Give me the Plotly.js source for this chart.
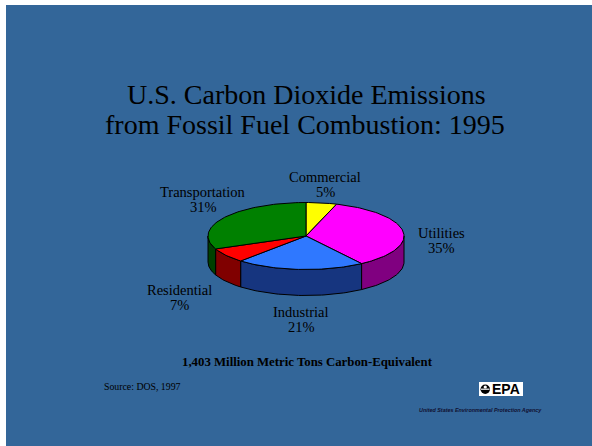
<!DOCTYPE html>
<html>
<head>
<meta charset="utf-8">
<script src="https://cdn.plot.ly/plotly-3.0.1.min.js"></script>
<style>
  html, body { margin: 0; padding: 0; background: #ffffff; }
  #chart { width: 592px; height: 446px; }
</style>
</head>
<body>
<div id="chart"></div>
<script>
// Sectors, clockwise from twelve o'clock
const sectors = ["Commercial", "Utilities", "Industrial", "Residential", "Transportation"];
const shares = [5, 35, 21, 7, 31];              // percent of total
const topColors = ["#FFFF00", "#FF00FF", "#2F78FF", "#FF0000", "#008000"];
const sideColors = ["#808000", "#800080", "#16357F", "#800000", "#004000"];
const totalLabel = "1,403 Million Metric Tons Carbon-Equivalent";
const sourceLabel = "Source: DOS, 1997";

// Label anchors (pixel frame) for each sector: [x, y of name line]
const labelAnchor = [[325, 177], [441, 233], [301, 312], [179, 290], [203, 192]];

// Tilted-disc geometry in the pixel frame
const cx = 306, cy = 236, rx = 98, ry = 33.5, depth = 26;
const STEPS = 240;

function pt(theta, dy) {
  return [cx + rx * Math.sin(theta), cy - ry * Math.cos(theta) + (dy || 0)];
}
function arc(a0, a1, dy) {
  const n = Math.max(2, Math.ceil(Math.abs(a1 - a0) / (2 * Math.PI) * STEPS));
  const xs = [], ys = [];
  for (let i = 0; i <= n; i++) {
    const p = pt(a0 + (a1 - a0) * i / n, dy);
    xs.push(p[0]); ys.push(p[1]);
  }
  return [xs, ys];
}

const total = shares.reduce((a, b) => a + b, 0);
const bounds = [];
let acc = 0;
shares.forEach(v => {
  const a0 = acc / total * 2 * Math.PI;
  acc += v;
  bounds.push([a0, acc / total * 2 * Math.PI]);
});

const traces = [];
const edge = { color: "#000000", width: 1 };

// Visible rim of each sector (front half of the disc)
bounds.forEach(([a0, a1], i) => {
  const s = Math.max(a0, Math.PI / 2), e = Math.min(a1, 3 * Math.PI / 2);
  if (e <= s) return;
  const top = arc(s, e, 0), bot = arc(e, s, depth);
  traces.push({
    type: "scatter", mode: "lines", fill: "toself",
    x: top[0].concat(bot[0], [top[0][0]]),
    y: top[1].concat(bot[1], [top[1][0]]),
    fillcolor: sideColors[i], line: edge, hoverinfo: "skip", showlegend: false
  });
});

// Upper faces of the sectors
bounds.forEach(([a0, a1], i) => {
  const a = arc(a0, a1, 0);
  traces.push({
    type: "scatter", mode: "lines", fill: "toself",
    x: [cx].concat(a[0], [cx]),
    y: [cy].concat(a[1], [cy]),
    fillcolor: topColors[i], line: edge, hoverinfo: "skip", showlegend: false,
    name: sectors[i]
  });
});

const serif = "'Liberation Serif', 'Times New Roman', serif";
const ann = [];
function txt(x, y, text, size, extra) {
  ann.push(Object.assign({
    x: x, y: y, xref: "x", yref: "y", text: text, showarrow: false,
    xanchor: "center", yanchor: "middle",
    font: { family: serif, size: size, color: "#000000" }
  }, extra || {}));
}

// Heading
txt(306, 94, "U.S. Carbon Dioxide Emissions", 28);
txt(305, 124, "from Fossil Fuel Combustion: 1995", 28);

// Sector labels
sectors.forEach((name, i) => {
  const [lx, ly] = labelAnchor[i];
  txt(lx, ly, name, 14.5);
  txt(lx, ly + 15, shares[i] + "%", 14.5);
});

txt(307, 362, "<b>" + totalLabel + "</b>", 12.8);
txt(102, 386, sourceLabel, 9.8, { xanchor: "left" });
txt(522, 389, "<b>EPA</b>", 13, {
  xanchor: "right",
  font: { family: "'Liberation Sans', Arial, sans-serif", size: 14, color: "#000000" }
});
txt(480, 410, "<b><i>United States Environmental Protection Agency</i></b>", 5.4, {
  font: { family: "'Liberation Sans', Arial, sans-serif", size: 5.4, color: "#101030" }
});

const shapes = [
  { type: "rect", xref: "x", yref: "y", x0: 6, x1: 592, y0: 5, y1: 446,
    fillcolor: "#336699", line: { width: 0 }, layer: "below" },
  { type: "rect", xref: "x", yref: "y", x0: 479, x1: 523, y0: 382, y1: 396,
    fillcolor: "#FFFFFF", line: { width: 0 }, layer: "below" },
  { type: "circle", xref: "x", yref: "y", x0: 480.5, x1: 490, y0: 384.5, y1: 394,
    fillcolor: "#000000", line: { width: 0 } },
  { type: "line", xref: "x", yref: "y", x0: 481, x1: 489.5, y0: 389.2, y1: 389.2,
    line: { color: "#FFFFFF", width: 1.2 } },
  { type: "circle", xref: "x", yref: "y", x0: 483.6, x1: 486.9, y0: 385.6, y1: 388.6,
    fillcolor: "#FFFFFF", line: { width: 0 } }
];

const layout = {
  width: 592, height: 446,
  margin: { l: 0, r: 0, t: 0, b: 0, pad: 0 },
  paper_bgcolor: "#FFFFFF", plot_bgcolor: "rgba(0,0,0,0)",
  xaxis: { range: [0, 592], visible: false, fixedrange: true },
  yaxis: { range: [446, 0], visible: false, fixedrange: true },
  showlegend: false,
  annotations: ann,
  shapes: shapes
};

Plotly.newPlot("chart", traces, layout, { displayModeBar: false, staticPlot: true });
</script>
</body>
</html>
